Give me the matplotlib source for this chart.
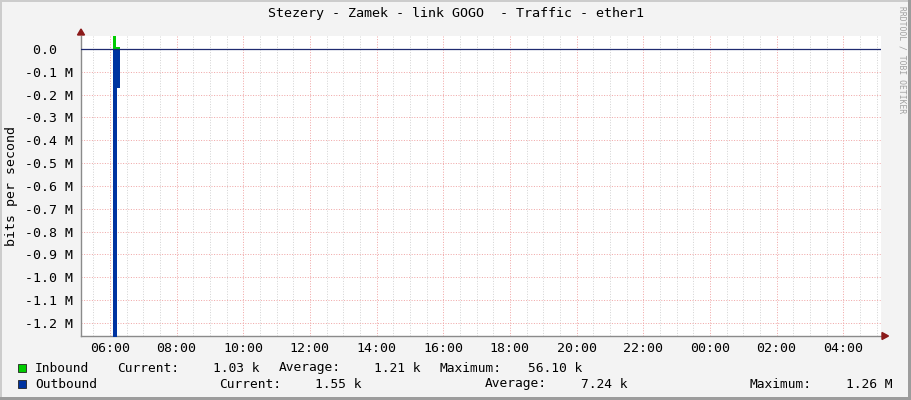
import matplotlib.pyplot as plt
from matplotlib.patches import Rectangle, Polygon
from matplotlib.ticker import FixedLocator

W, H = 911, 400

# traffic samples, minutes after midnight / bits per second
in_time = [366, 371, 378]
in_bps = [56100, 10000, 10000]
out_time = [366, 372, 378]
out_bps = [1260000, 170000, 170000]

# axes
x_start = 308                      # 05:08
x_end = x_start + 1440             # one day later
x_major = [360, 480, 600, 720, 840, 960, 1080, 1200, 1320, 1440, 1560, 1680]
x_labels = ['06:00', '08:00', '10:00', '12:00', '14:00', '16:00',
            '18:00', '20:00', '22:00', '00:00', '02:00', '04:00']
y_ticks_m = [0.0, -0.1, -0.2, -0.3, -0.4, -0.5, -0.6,
             -0.7, -0.8, -0.9, -1.0, -1.1, -1.2]
y_bottom, y_top = -1.257e6, 0.0569e6

# legend
stat_names = ['Current:', 'Average:', 'Maximum:']
in_stats = ['1.03 k', '1.21 k', '56.10 k']
out_stats = ['1.55 k', '7.24 k', '1.26 M']

title = 'Stezery - Zamek - link GOGO  - Traffic - ether1'

green = '#00cc00'
blue = '#0033a0'
mono = 'DejaVu Sans Mono'


def fx(x):
    return x / W


def fy(y):
    return 1 - y / H


fig = plt.figure(figsize=(W / 100, H / 100), dpi=100, facecolor='#f3f3f3')
ax = fig.add_axes([fx(81), fy(336), 800 / W, 300 / H])
ax.set_facecolor('white')

ax.fill_between(in_time, in_bps, 0, step='post', color=green, lw=0, zorder=3)
ax.fill_between(out_time, [-v for v in out_bps], 0, step='post', color=blue, lw=0, zorder=3)
ax.axhline(0, color='#1f2a70', lw=0.9, zorder=4)

ax.set_xlim(x_start, x_end)
ax.set_ylim(y_bottom, y_top)

ax.xaxis.set_major_locator(FixedLocator(x_major))
ax.xaxis.set_minor_locator(FixedLocator(list(range(330, x_end, 30))))
ax.set_xticklabels(x_labels)
ax.set_yticks([v * 1e6 for v in y_ticks_m])
ax.set_yticklabels([' 0.0'] + ['%.1f M' % v for v in y_ticks_m[1:]], ha='left')

ax.grid(True, which='major', axis='both', color='#f0a8a8', lw=0.72, ls=(0, (1, 1.6)))
ax.grid(True, which='minor', axis='x', color='#d4d4d4', lw=0.72, ls=(0, (1, 1.6)))
ax.set_axisbelow(True)

ax.tick_params(axis='both', which='both', length=0)
ax.tick_params(axis='x', pad=4, labelsize=9.5)
ax.tick_params(axis='y', pad=56 * 0.72, labelsize=9.5)
for lab in ax.get_xticklabels() + ax.get_yticklabels():
    lab.set_family(mono)

for s in ['top', 'right']:
    ax.spines[s].set_visible(False)
for s in ['left', 'bottom']:
    ax.spines[s].set_color('#8a8a8a')
    ax.spines[s].set_linewidth(1)

# arrows at the axis ends
fig.add_artist(Polygon([[fx(77.5), fy(35)], [fx(84.5), fy(35)], [fx(81), fy(29)]],
                       closed=True, color='#8b1a1a', transform=fig.transFigure))
fig.add_artist(Polygon([[fx(882), fy(332.5)], [fx(882), fy(339.5)], [fx(888.5), fy(336)]],
                       closed=True, color='#8b1a1a', transform=fig.transFigure))

# frame
fig.add_artist(Rectangle((0, fy(2)), 1, 2 / H, color='#cccccc', transform=fig.transFigure, lw=0))
fig.add_artist(Rectangle((0, 0), 2 / W, 1, color='#cccccc', transform=fig.transFigure, lw=0))
fig.add_artist(Rectangle((fx(908), 0), 3 / W, 1, color='#9c9c9c', transform=fig.transFigure, lw=0))
fig.add_artist(Rectangle((0, 0), 1, 3 / H, color='#9c9c9c', transform=fig.transFigure, lw=0))

fig.text(0.5, fy(14), title, ha='center', va='center', family=mono, fontsize=9.6)
fig.text(fx(12), fy(186), 'bits per second', rotation=90, ha='center', va='center',
         family=mono, fontsize=9.5)
fig.text(fx(902), fy(60), 'RRDTOOL / TOBI OETIKER', rotation=270, ha='center', va='center',
         family=mono, fontsize=5.8, color='#a0a0a0')

# legend rows
rows = [
    ('Inbound', green, in_stats, 368, [117, 279, 440], [213, 374, 528]),
    ('Outbound', blue, out_stats, 384, [219, 485, 750], [315, 581, 846]),
]
for name, col, stats, yc, name_x, val_x in rows:
    fig.add_artist(Rectangle((fx(17.5), fy(yc + 4)), 8.5 / W, 8 / H, facecolor=col,
                             edgecolor='#222222', lw=0.6, transform=fig.transFigure))
    fig.text(fx(35), fy(yc), name, ha='left', va='center', family=mono, fontsize=9.3)
    for lbl, v, xn, xv in zip(stat_names, stats, name_x, val_x):
        fig.text(fx(xn), fy(yc), lbl, ha='left', va='center', family=mono, fontsize=9.3)
        fig.text(fx(xv), fy(yc), v, ha='left', va='center', family=mono, fontsize=9.3)

fig.savefig('out.png', dpi=100, facecolor=fig.get_facecolor())
